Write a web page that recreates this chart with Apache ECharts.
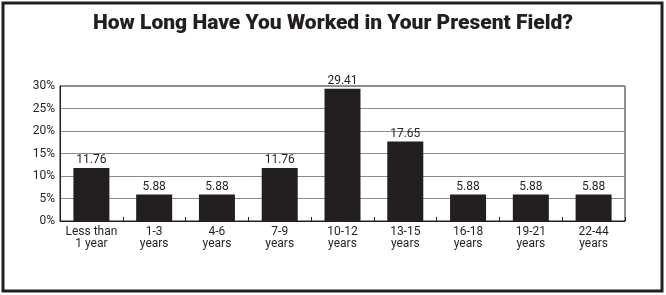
<!DOCTYPE html>
<html><head><meta charset="utf-8">
<script src="https://cdn.jsdelivr.net/npm/echarts@6/dist/echarts.min.js"></script>
<style>html,body{margin:0;padding:0;background:#fff}#c{width:666px;height:295px}</style>
</head><body><div id="c"></div>
<script>
const categories = ['Less than\n1 year','1-3\nyears','4-6\nyears','7-9\nyears','10-12\nyears','13-15\nyears','16-18\nyears','19-21\nyears','22-44\nyears'];
const values = [11.76, 5.88, 5.88, 11.76, 29.41, 17.65, 5.88, 5.88, 5.88];
const yTicks = [0, 5, 10, 15, 20, 25, 30];
const titleText = 'How Long Have You Worked in Your Present Field?';

const font = '"Liberation Sans Narrow", Roboto, Arial, sans-serif';
const chart = echarts.init(document.getElementById('c'), null, {renderer: 'canvas'});
chart.setOption({
  animation: false,
  backgroundColor: '#fff',
  title: {
    text: titleText, left: 'center', top: 8,
    textStyle: {fontFamily: font, fontSize: 21, fontWeight: 900, color: '#231f20'}
  },
  graphic: [{
    type: 'rect', shape: {x: 3, y: 3, width: 659, height: 288},
    style: {fill: 'none', stroke: '#231f20', lineWidth: 3}, silent: true
  }],
  grid: {left: 60, right: 41, top: 86, bottom: 74, show: true, borderColor: '#231f20', borderWidth: 1},
  xAxis: {
    type: 'category', data: categories,
    axisLine: {lineStyle: {color: '#231f20', width: 1}},
    axisTick: {show: true, inside: true, length: 4, lineStyle: {color: '#231f20'}},
    axisLabel: {fontFamily: font, fontSize: 12, color: '#231f20', lineHeight: 12, margin: 5, interval: 0}
  },
  yAxis: {
    type: 'value', min: yTicks[0], max: yTicks[yTicks.length-1], interval: 5,
    axisLine: {show: true, lineStyle: {color: '#231f20'}},
    axisTick: {show: false},
    axisLabel: {fontFamily: font, fontSize: 12, color: '#231f20', formatter: v => v + '%', margin: 5},
    splitLine: {lineStyle: {color: '#8a8a8a', width: 1}}
  },
  series: [{
    type: 'bar', data: values, barWidth: 36,
    itemStyle: {color: '#231f20'},
    label: {show: true, position: 'top', distance: 2, fontFamily: font, fontSize: 12, color: '#231f20',
      formatter: p => p.value.toFixed(2)}
  }]
});
</script></body></html>
